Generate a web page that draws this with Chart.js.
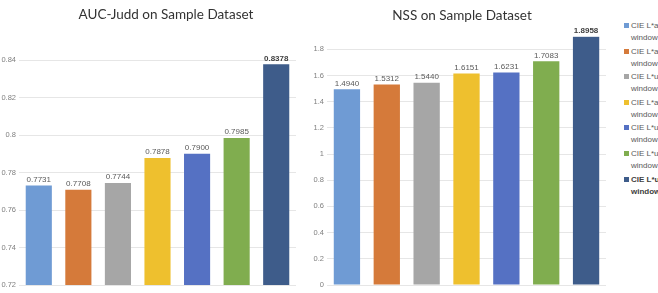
<!DOCTYPE html>
<html lang="en">
<head>
  <meta charset="UTF-8">
  <title>AUC-Judd and NSS on Sample Dataset</title>
  <script src="https://cdn.jsdelivr.net/npm/chart.js"></script>
  <style>
    html, body { margin: 0; padding: 0; background: #fff; overflow: hidden; }
    body { width: 658px; height: 293px; position: relative; }
    .caja { position: absolute; top: 0; height: 293px; }
    #cajaAuc { left: 0; width: 300px; }
    #cajaNss { left: 302px; width: 306px; }
    #leyenda { position: absolute; left: 624px; top: 20px; width: 120px;
      font: 8px "Liberation Sans", Arial, sans-serif; color: #595959; }
    .item { position: relative; height: 25.6px; padding-left: 7px; line-height: 12px; white-space: nowrap; }
    .item span.cuadro { position: absolute; left: 0; top: 3px; width: 5px; height: 5px; }
    .item.fuerte { font-weight: bold; color: #404040; }
  </style>
</head>
<body>
  <div class="caja" id="cajaAuc"><canvas id="graficoAuc"></canvas></div>
  <div class="caja" id="cajaNss"><canvas id="graficoNss"></canvas></div>
  <div id="leyenda"></div>

  <script>
    // datos
    const configuraciones = [
      ['CIE L*a*b*, 8x8', 'window'],
      ['CIE L*a*b*, 16x16', 'window'],
      ['CIE L*u*v*, 8x8', 'window'],
      ['CIE L*a*b*, 32x32', 'window'],
      ['CIE L*u*v*, 16x16', 'window'],
      ['CIE L*u*v*, 32x32', 'window'],
      ['CIE L*u*v*, 64x64', 'window']
    ];
    const colores = ['#6f9bd4', '#d57a3a', '#a6a6a6', '#eec02e', '#5571c3', '#80ad4f', '#3e5c8a'];
    const aucJudd = [0.7731, 0.7708, 0.7744, 0.7878, 0.7900, 0.7985, 0.8378];
    const nss = [1.4940, 1.5312, 1.5440, 1.6151, 1.6231, 1.7083, 1.8958];
    const mejor = 6;

    const fuenteTitulo = { family: 'Lato, "Liberation Sans", sans-serif', size: 13.5, weight: 'normal' };
    const fuenteEje = { family: '"Liberation Sans", Arial, sans-serif', size: 7.5 };

    // etiquetas encima de cada barra
    const etiquetas = {
      id: 'etiquetas',
      afterDatasetsDraw(chart) {
        const c = chart.ctx;
        const barras = chart.getDatasetMeta(0).data;
        const valores = chart.data.datasets[0].data;
        c.save();
        c.textAlign = 'center';
        c.textBaseline = 'bottom';
        barras.forEach((b, i) => {
          const negrita = i === mejor;
          c.font = (negrita ? 'bold ' : '') + '8px "Liberation Sans", Arial, sans-serif';
          c.fillStyle = negrita ? '#404040' : '#595959';
          c.fillText(valores[i].toFixed(4), b.x, b.y - 2);
        });
        c.restore();
      }
    };

    // mover el titulo a la derecha como en el original
    const moverTitulo = {
      id: 'moverTitulo',
      afterLayout(chart, args, opts) {
        if (chart.titleBlock && opts.dx) {
          chart.titleBlock.left += opts.dx;
          chart.titleBlock.right += opts.dx;
        }
      }
    };

    function crearGrafico(id, titulo, valores, eje, opc) {
      return new Chart(document.getElementById(id), {
        type: 'bar',
        data: {
          labels: configuraciones,
          datasets: [{
            data: valores,
            backgroundColor: colores,
            barPercentage: 0.66,
            categoryPercentage: 1
          }]
        },
        options: {
          responsive: true,
          maintainAspectRatio: false,
          animation: false,
          layout: { padding: opc.padding },
          scales: {
            x: { display: false },
            y: Object.assign({
              border: { display: false },
              grid: { color: '#e6e6e6', drawTicks: false },
              afterFit(scale) { scale.width = opc.anchoEje; },
              afterBuildTicks(scale) {
                scale.ticks = scale.ticks.filter(t => t.value <= opc.ultimoTick + 1e-9);
              }
            }, eje)
          },
          plugins: {
            legend: { display: false },
            tooltip: { enabled: false },
            title: {
              display: true,
              text: titulo,
              color: '#333333',
              font: fuenteTitulo,
              padding: opc.tituloPadding
            },
            moverTitulo: { dx: opc.dx }
          }
        },
        plugins: [etiquetas, moverTitulo]
      });
    }

    crearGrafico('graficoAuc', 'AUC-Judd on Sample Dataset', aucJudd, {
      min: 0.72,
      max: 0.84,
      ticks: {
        stepSize: 0.02,
        color: '#7f7f7f',
        font: fuenteEje,
        padding: 3,
        callback: v => String(+v.toFixed(2))
      }
    }, { padding: { right: 4, bottom: 8 }, anchoEje: 19, ultimoTick: 0.84,
         tituloPadding: { top: 7, bottom: 37 }, dx: 18 });

    crearGrafico('graficoNss', 'NSS on Sample Dataset', nss, {
      min: 0,
      max: 1.9,
      bounds: 'data',
      ticks: {
        stepSize: 0.2,
        color: '#7f7f7f',
        font: fuenteEje,
        padding: 3,
        callback: v => String(+v.toFixed(1))
      }
    }, { padding: { right: 2, bottom: 8 }, anchoEje: 25, ultimoTick: 1.8,
         tituloPadding: { top: 8, bottom: 12 }, dx: 8 });

    // leyenda en html con los mismos datos
    const leyenda = document.getElementById('leyenda');
    configuraciones.forEach((lineas, i) => {
      const item = document.createElement('div');
      item.className = 'item' + (i === mejor ? ' fuerte' : '');
      const cuadro = document.createElement('span');
      cuadro.className = 'cuadro';
      cuadro.style.background = colores[i];
      item.appendChild(cuadro);
      item.appendChild(document.createTextNode(lineas[0]));
      item.appendChild(document.createElement('br'));
      item.appendChild(document.createTextNode(lineas[1]));
      leyenda.appendChild(item);
    });
  </script>
</body>
</html>
